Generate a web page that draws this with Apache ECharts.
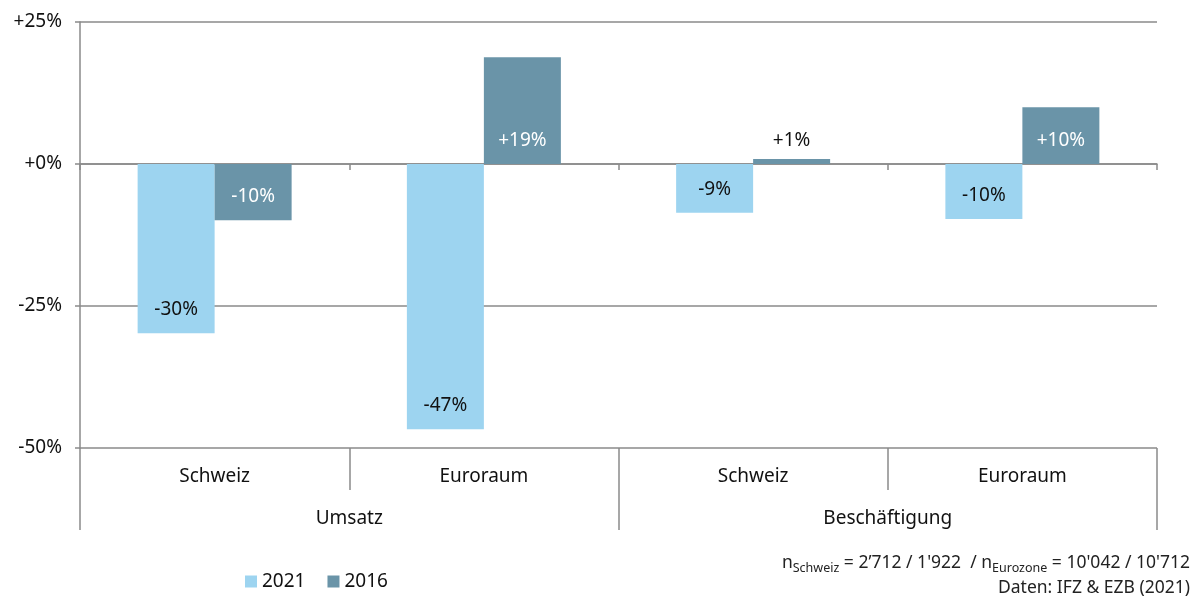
<!DOCTYPE html>
<html>
<head>
<meta charset="utf-8">
<script src="https://cdn.jsdelivr.net/npm/echarts@6/dist/echarts.min.js"></script>
<style>
  html, body { margin: 0; padding: 0; background: #fff; }
  #chart { width: 1197px; height: 599px; }
</style>
</head>
<body>
<div id="chart"></div>
<script>
// Kategorien und Werte (in %)
const categories = ['Schweiz', 'Euroraum', 'Schweiz', 'Euroraum'];
const groups = ['Umsatz', 'Beschäftigung'];
const values2021 = [-29.8, -46.7, -8.6, -9.7];
const values2016 = [-9.9, 18.8, 0.9, 10.0];
const yTicks = [-50, -25, 0, 25];

const FONT = '"Noto Sans", "Open Sans", sans-serif';
const light = '#9dd4f0';
const dark = '#6a94a8';
const gray = '#8a8a8a';
const txt = { fontSize: 19, fontFamily: FONT, color: '#111', letterSpacing: 1 };

const chart = echarts.init(document.getElementById('chart'));

const fmt = v => {
  const r = Math.round(v);
  return (r >= 0 ? '+' : '') + r + '%';
};

// kleine Balken bekommen das Label oberhalb
const labelFor = (v, color) => {
  const small = v >= 0 && v < 3;
  return Object.assign({}, txt, {
    show: true,
    position: small ? 'top' : 'insideBottom',
    distance: small ? 9 : 14,
    color: small ? '#111' : color,
    formatter: p => fmt(p.value)
  });
};

const option = {
  animation: false,
  grid: { left: 80, right: 40, top: 22, bottom: 151, containLabel: false },
  legend: {
    left: 240, top: 567,
    itemWidth: 12, itemHeight: 12, itemGap: 22,
    icon: 'rect',
    textStyle: txt,
    data: ['2021', '2016']
  },
  xAxis: [
    {
      type: 'category',
      data: categories,
      axisLine: { onZero: true, lineStyle: { color: gray, width: 1.5 } },
      axisTick: { show: true, length: 6, lineStyle: { color: gray, width: 1.5 } },
      axisLabel: { show: false }
    },
    {
      type: 'category',
      data: categories,
      position: 'bottom',
      axisLine: { show: false, onZero: false },
      axisTick: { show: true, length: 42, lineStyle: { color: gray, width: 1.5 } },
      axisLabel: Object.assign({ show: true, margin: 19 }, txt)
    },
    {
      type: 'category',
      data: groups,
      position: 'bottom',
      axisLine: { show: false, onZero: false },
      axisTick: { show: true, length: 82, lineStyle: { color: gray, width: 1.5 } },
      axisLabel: Object.assign({ show: true, margin: 61 }, txt)
    }
  ],
  yAxis: {
    type: 'value',
    min: yTicks[0], max: yTicks[yTicks.length - 1], interval: 25,
    axisLine: { show: true, lineStyle: { color: gray, width: 1.5 } },
    axisTick: { show: true, length: 5, lineStyle: { color: gray, width: 1.5 } },
    splitLine: { show: true, lineStyle: { color: gray, width: 1.5 } },
    axisLabel: Object.assign({ margin: 18, formatter: v => (v >= 0 ? '+' : '') + v + '%' }, txt)
  },
  series: [
    {
      name: '2021',
      type: 'bar',
      barWidth: 77,
      barGap: 0,
      itemStyle: { color: light },
      data: values2021.map(v => ({ value: v, label: labelFor(v, '#111') }))
    },
    {
      name: '2016',
      type: 'bar',
      barWidth: 77,
      barGap: 0,
      itemStyle: { color: dark },
      data: values2016.map(v => ({ value: v, label: labelFor(v, '#fff') }))
    }
  ],
  graphic: [
    {
      type: 'text',
      right: 7, top: 554,
      style: {
        text: 'n{sub|Schweiz} = 2’712 / 1\'922  / n{sub|Eurozone} = 10\'042 / 10\'712',
        fontSize: 17.5, fontFamily: FONT, fill: '#222', align: 'right',
        rich: {
          sub: { fontSize: 12.5, fontFamily: FONT, fill: '#222', padding: [11, 0, 0, 0] }
        }
      }
    },
    {
      type: 'text',
      right: 7, top: 579,
      style: {
        text: 'Daten: IFZ & EZB (2021)',
        fontSize: 17.5, fontFamily: FONT, fill: '#222', align: 'right'
      }
    }
  ]
};

chart.setOption(option);
</script>
</body>
</html>
